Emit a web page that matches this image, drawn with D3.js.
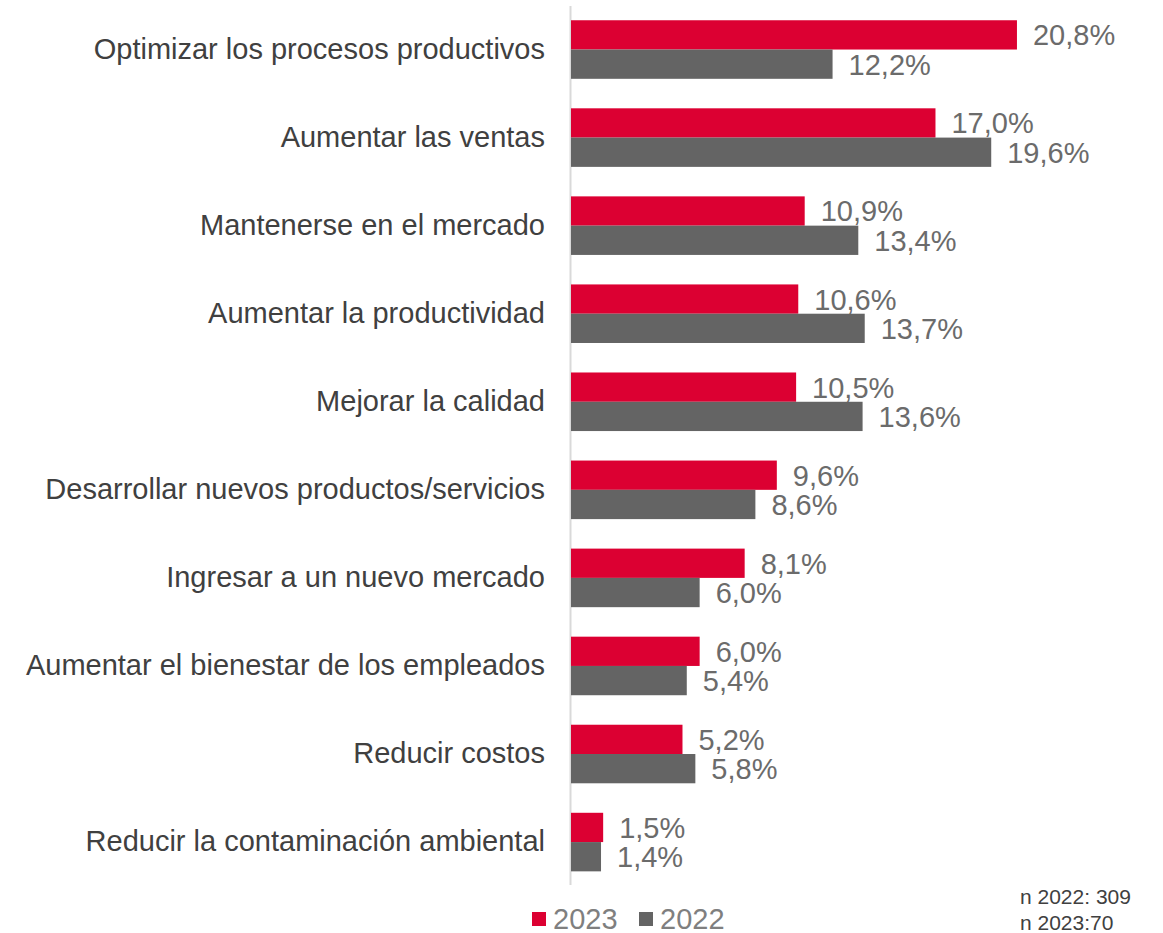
<!DOCTYPE html>
<meta charset="utf-8">
<head>
  <style>
    body { margin: 0; background: #fff; }
    svg text { font-family: "Liberation Sans", Arial, sans-serif; }
  </style>
</head>
<body>
<div id="my_dataviz"></div>
<script src="https://d3js.org/d3.v7.min.js"></script>
<script>

// data
var categories = [
  "Optimizar los procesos productivos",
  "Aumentar las ventas",
  "Mantenerse en el mercado",
  "Aumentar la productividad",
  "Mejorar la calidad",
  "Desarrollar nuevos productos/servicios",
  "Ingresar a un nuevo mercado",
  "Aumentar el bienestar de los empleados",
  "Reducir costos",
  "Reducir la contaminación ambiental"
];
var values2023 = [20.8, 17.0, 10.9, 10.6, 10.5, 9.6, 8.1, 6.0, 5.2, 1.5];
var values2022 = [12.2, 19.6, 13.4, 13.7, 13.6, 8.6, 6.0, 5.4, 5.8, 1.4];
var seriesNames = ["2023", "2022"];
var seriesColors = ["#dc0032", "#646464"];
var notes = ["n 2022: 309", "n 2023:70"];

var width = 1163, height = 933;

var svg = d3.select("#my_dataviz")
  .append("svg")
    .attr("width", width)
    .attr("height", height);

var x = d3.scaleLinear()
  .domain([0, 25])
  .range([571, 571 + 25 * 21.44]);

var y = d3.scaleBand()
  .domain(categories)
  .range([20.25, 871.35])
  .paddingInner(0.335)
  .paddingOuter(0);

var ySub = d3.scaleBand()
  .domain(seriesNames)
  .range([0, y.bandwidth()]);

var fmt = function(v) { return d3.format(".1f")(v).replace(".", ",") + "%"; };

// category labels
var yAxis = svg.append("g")
  .attr("transform", "translate(570,0)")
  .call(d3.axisLeft(y).tickSize(0).tickPadding(25));
yAxis.select(".domain").remove();
yAxis.selectAll("text")
  .style("font-size", "29px")
  .style("font-family", "'Liberation Sans', Arial, sans-serif")
  .attr("fill", "#404040");

// vertical axis line
svg.append("line")
  .attr("x1", 570.5).attr("x2", 570.5)
  .attr("y1", 6).attr("y2", 885)
  .attr("stroke", "#d9d9d9")
  .attr("stroke-width", 2);

// rows
var rows = categories.map(function(c, i) {
  return { cat: c, vals: [
    { s: seriesNames[0], v: values2023[i], color: seriesColors[0] },
    { s: seriesNames[1], v: values2022[i], color: seriesColors[1] }
  ]};
});

var groups = svg.selectAll(".row")
  .data(rows)
  .enter()
  .append("g")
    .attr("class", "row")
    .attr("transform", function(d) { return "translate(0," + y(d.cat) + ")"; });

groups.selectAll("rect")
  .data(function(d) { return d.vals; })
  .enter()
  .append("rect")
    .attr("x", x(0))
    .attr("y", function(d) { return ySub(d.s); })
    .attr("width", function(d) { return x(d.v) - x(0); })
    .attr("height", ySub.bandwidth())
    .attr("fill", function(d) { return d.color; });

groups.selectAll(".val")
  .data(function(d) { return d.vals; })
  .enter()
  .append("text")
    .attr("class", "val")
    .attr("x", function(d) { return x(d.v) + 16; })
    .attr("y", function(d) { return ySub(d.s) + ySub.bandwidth() / 2; })
    .attr("dy", "0.36em")
    .attr("fill", "#6b6b6b")
    .style("font-size", "29px")
    .text(function(d) { return fmt(d.v); });

// legend
var legend = svg.append("g").attr("transform", "translate(532,912)");
var legX = [0, 107];
seriesNames.forEach(function(s, i) {
  legend.append("rect")
    .attr("x", legX[i]).attr("y", 0)
    .attr("width", 14).attr("height", 14)
    .attr("fill", seriesColors[i]);
  legend.append("text")
    .attr("x", legX[i] + 21).attr("y", 7)
    .attr("dy", "0.36em")
    .attr("fill", "#7f7f7f")
    .style("font-size", "29px")
    .text(s);
});

// sample notes
notes.forEach(function(t, i) {
  svg.append("text")
    .attr("x", 1020)
    .attr("y", 904 + i * 26)
    .attr("fill", "#404040")
    .style("font-size", "21px")
    .text(t);
});

</script>
</body>
